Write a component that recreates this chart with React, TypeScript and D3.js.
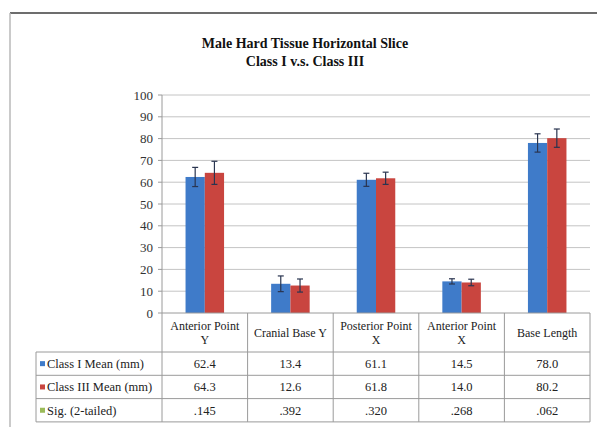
import React from 'react'
import * as d3 from 'd3'

// values
const categories = ['Anterior Point Y', 'Cranial Base Y', 'Posterior Point X', 'Anterior Point X', 'Base Length']
const headerLines = [['Anterior Point', 'Y'], ['Cranial Base Y'], ['Posterior Point', 'X'], ['Anterior Point', 'X'], ['Base Length']]
const class1Mean = [62.4, 13.4, 61.1, 14.5, 78.0]
const class3Mean = [64.3, 12.6, 61.8, 14.0, 80.2]
const class1Err = [4.4, 3.6, 3.0, 1.2, 4.2]
const class3Err = [5.3, 3.0, 2.8, 1.5, 4.2]
const sigLabels = ['.145', '.392', '.320', '.268', '.062']
const class1Labels = ['62.4', '13.4', '61.1', '14.5', '78.0']
const class3Labels = ['64.3', '12.6', '61.8', '14.0', '80.2']
const yTicks = [0, 10, 20, 30, 40, 50, 60, 70, 80, 90, 100]

const W = 597
const H = 427
const BLUE = '#3f7bc9'
const RED = '#c9453f'
const GREEN = '#9bbb59'
const FONT = '"Liberation Serif", "Times New Roman", serif'

const series = [
  { name: 'Class I Mean (mm)', values: class1Mean, err: class1Err, color: BLUE, labels: class1Labels },
  { name: 'Class III Mean (mm)', values: class3Mean, err: class3Err, color: RED, labels: class3Labels },
]

const App: React.FC = () => {
  const left = 162
  const right = 590
  const top = 95
  const bottom = 313
  const tableLeft = 36
  const headerBottom = 352
  const rowH = 23.3

  const x = d3.scaleBand<string>().domain(categories).range([left, right]).padding(0)
  const y = d3.scaleLinear().domain([0, 100]).range([bottom, top])
  const groupW = x.bandwidth() * 0.45
  const inner = d3.scaleBand<number>().domain([0, 1]).range([0, groupW]).padding(0)

  const rows = [
    { name: 'Class I Mean (mm)', color: BLUE, labels: class1Labels },
    { name: 'Class III Mean (mm)', color: RED, labels: class3Labels },
    { name: 'Sig. (2-tailed)', color: GREEN, labels: sigLabels },
  ]
  const tableBottom = headerBottom + rowH * rows.length
  const gridColor = '#c4c4c4'
  const lineColor = '#9a9a9a'

  return (
    <svg width={W} height={H} style={{ position: 'absolute', left: 0, top: 0, background: '#fff' }} fontFamily={FONT}>
      {/* outer frame */}
      <line x1={10} x2={W} y1={13} y2={13} stroke="#6d6d6d" strokeWidth={2} />
      <line x1={10} x2={10} y1={13} y2={H} stroke="#b8b8b8" strokeWidth={1.5} />

      {/* title */}
      <text x={305} y={48} textAnchor="middle" fontSize={14} fontWeight="bold" fill="#111">
        Male Hard Tissue Horizontal Slice
      </text>
      <text x={305} y={66} textAnchor="middle" fontSize={14} fontWeight="bold" fill="#111">
        Class I v.s. Class III
      </text>

      {/* gridlines */}
      {yTicks.filter((t) => t > 0).map((t) => (
        <line key={t} x1={left} x2={right} y1={y(t)} y2={y(t)} stroke={gridColor} strokeWidth={1} />
      ))}

      {/* y axis */}
      <line x1={left} x2={left} y1={top} y2={tableBottom} stroke={lineColor} />
      {yTicks.map((t) => (
        <g key={t}>
          <line x1={left - 4} x2={left} y1={y(t)} y2={y(t)} stroke={lineColor} />
          <text x={left - 9} y={y(t)} dy="0.35em" textAnchor="end" fontSize={13} fill="#333">
            {t}
          </text>
        </g>
      ))}

      {/* bars */}
      {series.map((s, si) =>
        categories.map((c, i) => {
          const bx = (x(c) as number) + (x.bandwidth() - groupW) / 2 + (inner(si) as number)
          const bw = inner.bandwidth()
          const cx = bx + bw / 2
          const v = s.values[i]
          const e = s.err[i]
          return (
            <g key={`${si}-${i}`}>
              <rect x={bx} y={y(v)} width={bw} height={bottom - y(v)} fill={s.color} />
              <line x1={cx} x2={cx} y1={y(v + e)} y2={y(v - e)} stroke="#2a3550" strokeWidth={1.2} />
              <line x1={cx - 3} x2={cx + 3} y1={y(v + e)} y2={y(v + e)} stroke="#2a3550" strokeWidth={1.2} />
              <line x1={cx - 3} x2={cx + 3} y1={y(v - e)} y2={y(v - e)} stroke="#2a3550" strokeWidth={1.2} />
            </g>
          )
        })
      )}

      {/* x axis line */}
      <line x1={left} x2={right} y1={bottom} y2={bottom} stroke={lineColor} />

      {/* data table */}
      {categories.map((c) => (
        <line key={c} x1={(x(c) as number) + x.bandwidth()} x2={(x(c) as number) + x.bandwidth()} y1={bottom} y2={tableBottom} stroke={lineColor} />
      ))}
      {[0, 1, 2, 3].map((r) => (
        <line key={r} x1={tableLeft} x2={right} y1={headerBottom + r * rowH} y2={headerBottom + r * rowH} stroke={lineColor} />
      ))}
      <line x1={tableLeft} x2={tableLeft} y1={headerBottom} y2={tableBottom} stroke={lineColor} />

      {categories.map((c, i) => {
        const lines = headerLines[i]
        const cx = (x(c) as number) + x.bandwidth() / 2
        const midY = (bottom + headerBottom) / 2
        return (
          <text key={c} textAnchor="middle" fontSize={12} fill="#222">
            {lines.map((l, li) => (
              <tspan key={li} x={cx} y={midY + (li - (lines.length - 1) / 2) * 14} dy="0.35em">
                {l}
              </tspan>
            ))}
          </text>
        )
      })}

      {rows.map((r, ri) => {
        const cy = headerBottom + rowH * ri + rowH / 2
        return (
          <g key={r.name}>
            <rect x={tableLeft + 4} y={cy - 2.5} width={5} height={5} fill={r.color} />
            <text x={tableLeft + 11} y={cy} dy="0.35em" fontSize={12.5} fill="#222">
              {r.name}
            </text>
            {categories.map((c, i) => (
              <text key={c} x={(x(c) as number) + x.bandwidth() / 2} y={cy} dy="0.35em" textAnchor="middle" fontSize={12.5} fill="#222">
                {r.labels[i]}
              </text>
            ))}
          </g>
        )
      })}
    </svg>
  )
}

export default App
